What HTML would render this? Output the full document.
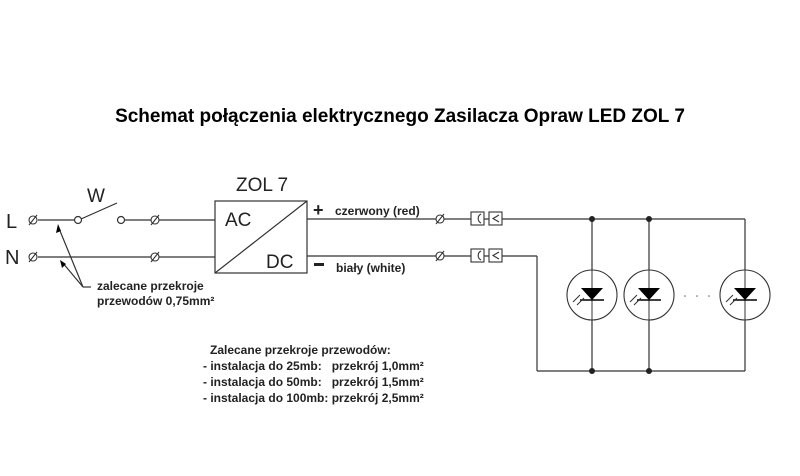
<!DOCTYPE html><html><head><style>body{margin:0;background:#fff}svg{display:block}text{font-family:"Liberation Sans",sans-serif}</style></head><body>
<svg width="800" height="476" viewBox="0 0 800 476">
<text x="400" y="122" text-anchor="middle" font-size="19" font-weight="bold">Schemat połączenia elektrycznego Zasilacza Opraw LED ZOL 7</text>
<g stroke="#333" stroke-width="1.2" fill="none">
<line x1="38" y1="220" x2="75" y2="220"/><circle cx="78" cy="220" r="3.5"/>
<line x1="81" y1="219" x2="117" y2="203"/><circle cx="121" cy="220" r="3.5"/>
<line x1="124" y1="220" x2="215" y2="220"/>
<line x1="38" y1="257" x2="215" y2="257"/>
<rect x="215" y="201" width="92" height="72"/><line x1="215" y1="273" x2="307" y2="201"/>
<line x1="307" y1="219" x2="745" y2="219"/>
<line x1="307" y1="256" x2="537" y2="256"/>
<line x1="537" y1="256" x2="537" y2="371"/>
<line x1="537" y1="371" x2="745" y2="371"/>
<line x1="745" y1="219" x2="745" y2="371"/>
<line x1="592" y1="219" x2="592" y2="371"/>
<line x1="649" y1="219" x2="649" y2="371"/>
<line x1="83" y1="287" x2="58" y2="226"/><line x1="83" y1="287" x2="62" y2="262"/><line x1="83" y1="287" x2="91" y2="287"/>
</g>
<g fill="#000"><polygon points="58,224 56,233 61,231"/><polygon points="60,260 62,268 66,264"/></g>
<g stroke="#333" stroke-width="1.1" fill="#fff">
<g transform="translate(33,220)"><circle r="4"/><line x1="-4" y1="5" x2="4" y2="-5"/></g>
<g transform="translate(33,257)"><circle r="4"/><line x1="-4" y1="5" x2="4" y2="-5"/></g>
<g transform="translate(155,220)"><circle r="4"/><line x1="-4" y1="5" x2="4" y2="-5"/></g>
<g transform="translate(155,257)"><circle r="4"/><line x1="-4" y1="5" x2="4" y2="-5"/></g>
<g transform="translate(440,219)"><circle r="4"/><line x1="-4" y1="5" x2="4" y2="-5"/></g>
<g transform="translate(440,256)"><circle r="4"/><line x1="-4" y1="5" x2="4" y2="-5"/></g>
</g>
<g fill="#222">
<text x="6" y="228" font-size="20">L</text><text x="5" y="264" font-size="20">N</text>
<text x="87" y="202" font-size="19">W</text>
<text x="236" y="191" font-size="19">ZOL 7</text>
<text x="225" y="226" font-size="19">AC</text><text x="266" y="268" font-size="19">DC</text>
<text x="313" y="216" font-size="18" font-weight="bold">+</text>
<rect x="314" y="263" width="10" height="3"/>
<text x="335" y="215" font-size="12" font-weight="bold">czerwony (red)</text>
<text x="336" y="272" font-size="12" font-weight="bold">biały (white)</text>
<text x="97" y="290" font-size="12" font-weight="bold">zalecane przekroje</text>
<text x="97" y="305" font-size="12" font-weight="bold">przewodów 0,75mm²</text>
<g font-size="12" font-weight="bold">
<text x="210" y="354">Zalecane przekroje przewodów:</text>
<text x="203" y="370" xml:space="preserve">- instalacja do 25mb:   przekrój 1,0mm²</text>
<text x="203" y="386" xml:space="preserve">- instalacja do 50mb:   przekrój 1,5mm²</text>
<text x="203" y="402" xml:space="preserve">- instalacja do 100mb: przekrój 2,5mm²</text>
</g>
<circle cx="592" cy="219" r="3"/><circle cx="649" cy="219" r="3"/><circle cx="592" cy="371" r="3"/><circle cx="649" cy="371" r="3"/>
</g>
<g stroke="#333" stroke-width="1.1" fill="#fff">
<rect x="471" y="212" width="13" height="13"/><rect x="489" y="212" width="13" height="13"/>
<rect x="471" y="249" width="13" height="13"/><rect x="489" y="249" width="13" height="13"/>
<path d="M481 214 A5 5 0 0 0 481 223 M481 251 A5 5 0 0 0 481 260 M499 215 L493 218.5 L499 222 M499 252 L493 255.5 L499 259" fill="none"/>
</g>
<g>
<g transform="translate(592,295)"><circle r="25" fill="#fff" stroke="#333" stroke-width="1.1"/><line x1="0" y1="-25" x2="0" y2="25" stroke="#333"/><polygon points="-11,-7 11,-7 0,5" fill="#000"/><line x1="-12" y1="5" x2="12" y2="5" stroke="#000" stroke-width="1.5"/><path d="M-12,0 l-7,7 M-8,3 l-7,7" stroke="#333"/></g>
<g transform="translate(649,295)"><circle r="25" fill="#fff" stroke="#333" stroke-width="1.1"/><line x1="0" y1="-25" x2="0" y2="25" stroke="#333"/><polygon points="-11,-7 11,-7 0,5" fill="#000"/><line x1="-12" y1="5" x2="12" y2="5" stroke="#000" stroke-width="1.5"/><path d="M-12,0 l-7,7 M-8,3 l-7,7" stroke="#333"/></g>
<g transform="translate(745,295)"><circle r="25" fill="#fff" stroke="#333" stroke-width="1.1"/><line x1="0" y1="-25" x2="0" y2="25" stroke="#333"/><polygon points="-11,-7 11,-7 0,5" fill="#000"/><line x1="-12" y1="5" x2="12" y2="5" stroke="#000" stroke-width="1.5"/><path d="M-12,0 l-7,7 M-8,3 l-7,7" stroke="#333"/></g>
</g>
<g fill="#666"><circle cx="685" cy="296" r="0.8"/><circle cx="697" cy="296" r="0.8"/><circle cx="709" cy="296" r="0.8"/></g>
</svg></body></html>
